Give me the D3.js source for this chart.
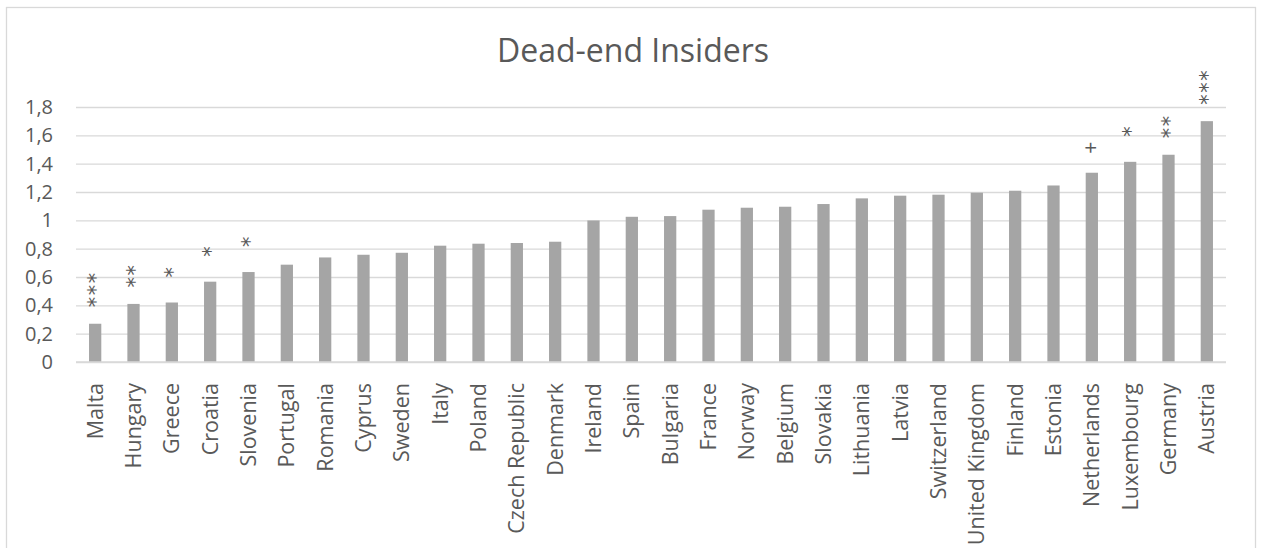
<!DOCTYPE html>
<html>
<head>
<meta charset="utf-8">
<script src="https://cdn.jsdelivr.net/npm/d3@7"></script>
<style>
  html, body { margin: 0; padding: 0; background: #fff; }
  svg text { font-family: "Open Sans", "DejaVu Sans", sans-serif; fill: #595959; }
</style>
</head>
<body>
<svg id="chart" width="1262" height="548"></svg>
<script>
// Countries, ordered from lowest to highest value
const countries = [
  "Malta", "Hungary", "Greece", "Croatia", "Slovenia", "Portugal", "Romania",
  "Cyprus", "Sweden", "Italy", "Poland", "Czech Republic", "Denmark", "Ireland",
  "Spain", "Bulgaria", "France", "Norway", "Belgium", "Slovakia", "Lithuania",
  "Latvia", "Switzerland", "United Kingdom", "Finland", "Estonia", "Netherlands",
  "Luxembourg", "Germany", "Austria"
];

const values = [
  0.27, 0.41, 0.42, 0.567, 0.635, 0.687, 0.738,
  0.757, 0.771, 0.821, 0.835, 0.84, 0.849, 0.999,
  1.025, 1.03, 1.075, 1.089, 1.096, 1.115, 1.155,
  1.174, 1.181, 1.195, 1.209, 1.246, 1.336,
  1.413, 1.463, 1.70
];

// Significance markers shown above the bars
const significance = [
  "***", "**", "*", "*", "*", "", "",
  "", "", "", "", "", "", "",
  "", "", "", "", "", "", "",
  "", "", "", "", "", "+",
  "*", "**", "***"
];

const yTicks = [0, 0.2, 0.4, 0.6, 0.8, 1.0, 1.2, 1.4, 1.6, 1.8];
const title = "Dead-end Insiders";

const plot = { left: 76, right: 1226, top: 107, bottom: 362 };
const svg = d3.select("#chart");

// Chart frame
svg.append("rect")
  .attr("x", 6.5).attr("y", 7.5)
  .attr("width", 1249).attr("height", 580)
  .attr("fill", "#fff")
  .attr("stroke", "#d9d9d9")
  .attr("stroke-width", 1.3);

// Title
svg.append("text")
  .attr("x", 633).attr("y", 62)
  .attr("text-anchor", "middle")
  .style("font-size", "32px")
  .text(title);

const x = d3.scaleBand()
  .domain(countries)
  .range([plot.left, plot.right])
  .paddingInner(0.68)
  .paddingOuter(0.34);

const y = d3.scaleLinear()
  .domain([0, 1.8])
  .range([plot.bottom, plot.top]);

const fmt = v => d3.format("~g")(+v.toFixed(1)).replace(".", ",");

// Horizontal gridlines and value labels
const yAxis = d3.axisLeft(y)
  .tickValues(yTicks)
  .tickSize(-(plot.right - plot.left))
  .tickPadding(23)
  .tickFormat(fmt);

const gy = svg.append("g")
  .attr("transform", `translate(${plot.left},0)`)
  .call(yAxis);
gy.select(".domain").remove();
gy.selectAll(".tick line")
  .attr("stroke", "#d9d9d9")
  .attr("stroke-width", 1.4);
gy.selectAll(".tick text")
  .style("font-size", "20px")
  .attr("fill", "#595959");

// Bars
svg.append("g")
  .selectAll("rect")
  .data(countries)
  .join("rect")
  .attr("x", d => x(d))
  .attr("y", (d, i) => y(values[i]))
  .attr("width", x.bandwidth())
  .attr("height", (d, i) => y(0) - y(values[i]))
  .attr("fill", "#a5a5a5");

// Category axis line
svg.append("line")
  .attr("x1", plot.left).attr("x2", plot.right)
  .attr("y1", y(0)).attr("y2", y(0))
  .attr("stroke", "#d9d9d9")
  .attr("stroke-width", 1.4);

// Rotated category labels
const xAxis = d3.axisBottom(x).tickSize(0).tickPadding(0);
const gx = svg.append("g")
  .attr("transform", `translate(0,${y(0)})`)
  .call(xAxis);
gx.select(".domain").remove();
gx.selectAll(".tick text")
  .attr("transform", "translate(7.5,21) rotate(-90)")
  .attr("x", 0).attr("y", 0).attr("dy", 0)
  .attr("text-anchor", "end")
  .style("font-size", "21.5px")
  .attr("fill", "#595959");

// Significance markers, written vertically above each bar
const markGap = s => s.length > 1 ? 16.5 : (s === "+" ? 19 : 25);
svg.append("g")
  .selectAll("text")
  .data(countries.map((c, i) => ({ c, v: values[i], s: significance[i] })).filter(d => d.s))
  .join("text")
  .attr("transform", d => {
    const cx = x(d.c) + x.bandwidth() / 2;
    return `translate(${cx + (d.s === "+" ? 6.5 : 8)},${y(d.v) - markGap(d.s)}) rotate(-90)`;
  })
  .attr("text-anchor", "start")
  .style("font-family", d => d.s === "+" ? "'Open Sans', sans-serif" : "'DejaVu Sans', sans-serif")
  .style("font-size", "21px")
  .style("letter-spacing", "1.5px")
  .attr("fill", "#595959")
  .text(d => d.s);
</script>
</body>
</html>
